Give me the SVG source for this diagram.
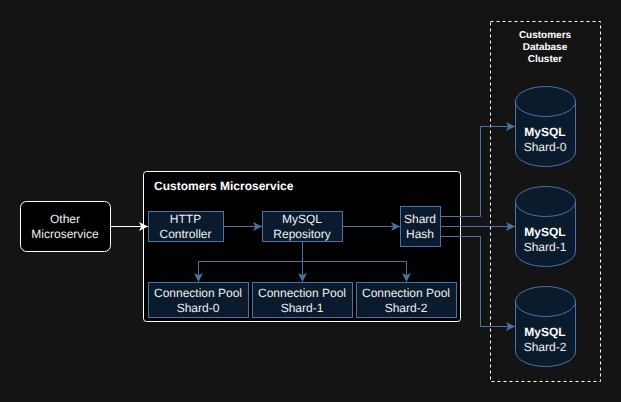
<svg xmlns="http://www.w3.org/2000/svg" width="621" height="402" viewBox="0 0 621 402">
<style>
text{font-family:"Liberation Sans",Arial,sans-serif;font-size:12px;fill:#f0f0f0;text-anchor:middle;text-rendering:geometricPrecision}
.t{font-weight:bold;fill:#fff}
.s{font-size:10px}
.n{fill:#0b1b2e;stroke:#4a72a8;stroke-width:1}
.w{fill:#000;stroke:#fff;stroke-width:1}
.c{fill:none;stroke:#4a72a8;stroke-width:1}
.cw{fill:none;stroke:#fff;stroke-width:1}
</style>
<defs>
<marker id="a" markerUnits="userSpaceOnUse" markerWidth="10" markerHeight="10" refX="9" refY="5" orient="auto"><path d="M0 0.5L9 5L0 9.5L2.2 5Z" fill="#4a72a8"/></marker>
<marker id="aw" markerUnits="userSpaceOnUse" markerWidth="10" markerHeight="10" refX="9" refY="5" orient="auto"><path d="M0 0.5L9 5L0 9.5L2.2 5Z" fill="#fff"/></marker>
</defs>
<rect width="621" height="402" fill="#141414"/>
<g id="cluster"><rect x="490.5" y="21.5" width="110" height="360" fill="none" stroke="#fff" stroke-dasharray="3 3"/><text class="t s" x="545" y="38">Customers</text><text class="t s" x="545" y="50">Database</text><text class="t s" x="545" y="62">Cluster</text></g>
<g id="microservice"><rect class="w" x="143.5" y="171.5" width="317" height="150" rx="3"/><text class="t" x="154" y="190" style="text-anchor:start">Customers Microservice</text></g>
<g id="other"><rect class="w" x="20.5" y="201.5" width="90" height="50" rx="6"/><text x="65" y="223">Other</text><text x="65" y="238">Microservice</text></g>
<g id="http"><rect class="n" x="148.5" y="211.5" width="75" height="30"/><text x="185.5" y="223">HTTP</text><text x="185.5" y="238">Controller</text></g>
<g id="repo"><rect class="n" x="262.5" y="211.5" width="80" height="30"/><text x="302" y="223">MySQL</text><text x="302" y="238">Repository</text></g>
<g id="hash"><rect class="n" x="400.5" y="206.5" width="40" height="40"/><text x="420" y="223">Shard</text><text x="420" y="238">Hash</text></g>
<g id="pool0"><rect class="n" x="148.5" y="282.5" width="100" height="35"/><text x="198" y="297">Connection Pool</text><text x="198" y="312">Shard-0</text></g>
<g id="pool1"><rect class="n" x="252.5" y="282.5" width="100" height="35"/><text x="302" y="297">Connection Pool</text><text x="302" y="312">Shard-1</text></g>
<g id="pool2"><rect class="n" x="356.5" y="282.5" width="100" height="35"/><text x="406" y="297">Connection Pool</text><text x="406" y="312">Shard-2</text></g>
<g id="db0"><path class="n" d="M515.5 101.5a30 15 0 0 1 60 0v50a30 15 0 0 1-60 0Z"/><path class="c" d="M515.5 101.5a30 15 0 0 0 60 0"/><text class="t" x="545" y="136">MySQL</text><text x="545" y="151">Shard-0</text></g>
<g id="db1"><path class="n" d="M515.5 201.5a30 15 0 0 1 60 0v50a30 15 0 0 1-60 0Z"/><path class="c" d="M515.5 201.5a30 15 0 0 0 60 0"/><text class="t" x="545" y="236">MySQL</text><text x="545" y="251">Shard-1</text></g>
<g id="db2"><path class="n" d="M515.5 301.5a30 15 0 0 1 60 0v50a30 15 0 0 1-60 0Z"/><path class="c" d="M515.5 301.5a30 15 0 0 0 60 0"/><text class="t" x="545" y="336">MySQL</text><text x="545" y="351">Shard-2</text></g>
<g id="connectors">
<path class="cw" marker-end="url(#aw)" d="M110.5 226.5H148"/>
<path class="c" marker-end="url(#a)" d="M223.5 226.5H262"/>
<path class="c" marker-end="url(#a)" d="M342.5 226.5H400"/>
<path class="c" marker-end="url(#a)" d="M302.5 241.5V282"/>
<path class="c" marker-end="url(#a)" d="M302.5 261.5H198.5V282"/>
<path class="c" marker-end="url(#a)" d="M302.5 261.5H406.5V282"/>
<path class="c" marker-end="url(#a)" d="M440.5 216.5H480.5V126.5H515"/>
<path class="c" marker-end="url(#a)" d="M440.5 226.5H515"/>
<path class="c" marker-end="url(#a)" d="M440.5 236.5H480.5V326.5H515"/>
</g>
</svg>
